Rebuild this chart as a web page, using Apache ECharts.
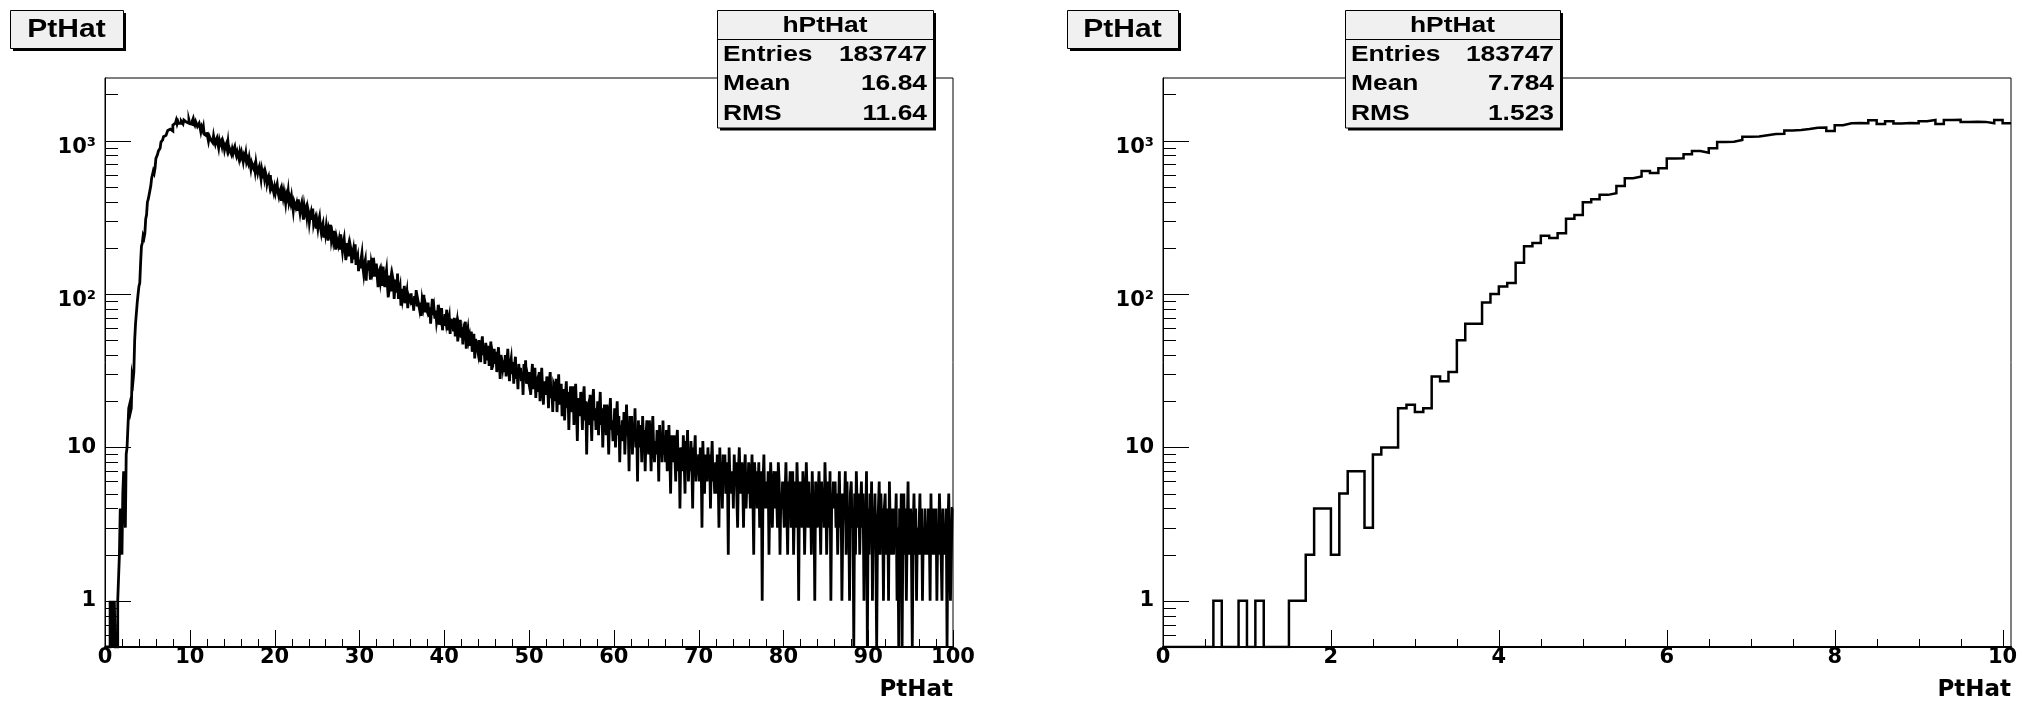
<!DOCTYPE html>
<html><head><meta charset="utf-8">
<script src="https://cdn.jsdelivr.net/npm/echarts@6/dist/echarts.min.js"></script>
<style>html,body{margin:0;padding:0;background:#fff}#c{width:2033px;height:710px}</style>
</head><body><div id="c"></div>
<script>
// ---- data: PtHat histogram, bin width 0.1 ----
const binWidth = 0.1;
// bins 0.0 .. 10.1 (101 bins) - shown in right panel and first part of left panel
const lowCounts = [
0,0,0,0,0,0,1,0,0,1,
0,1,0,0,0,1,1,2,4,4,
2,5,7,7,3,9,10,10,18,19,
17,18,29,27,31,50,64,64,88,100,
112,118,160,205,215,240,232,249,309,328,
397,415,443,454,507,569,583,635,614,661,
764,766,815,857,835,892,978,983,1010,1060,
1064,1084,1103,1109,1166,1172,1190,1213,1218,1157,
1260,1296,1301,1298,1358,1285,1338,1295,1302,1297,
1338,1364,1285,1362,1366,1322,1327,1325,1298,1364,
1298];
// bins 10.1 .. 100.0 (899 bins)
const tailCounts = [
1331,1277,1349,1396,1302,1262,1327,1360,1237,
1240,1296,1221,1143,1224,1177,1239,1102,1132,1072,
1134,1058,992,1069,1076,1007,1037,970,1073,997,
950,1008,1040,958,898,1005,954,984,920,997,
957,870,922,952,887,980,855,885,904,820,
879,829,882,914,834,796,843,863,759,837,
785,837,785,730,801,772,829,727,758,718,
775,711,655,718,724,664,688,632,716,652,
613,657,681,612,561,644,601,622,569,628,
596,525,561,583,528,597,495,516,527,458,
496,460,498,522,461,434,467,483,405,463,
426,466,429,391,445,425,469,397,421,394,
431,387,349,399,406,366,387,349,414,370,
338,372,393,343,306,371,340,358,320,366,
344,293,324,342,304,360,286,304,316,267,
297,269,300,319,273,252,279,291,233,278,
249,280,252,223,264,250,283,227,246,225,
258,224,195,234,239,208,224,195,245,212,
190,216,231,194,166,215,192,205,176,211,
197,159,182,196,168,211,155,169,178,141,
167,147,170,185,151,136,157,167,122,158,
142,166,146,124,157,145,172,130,146,130,
158,132,111,140,145,122,134,113,151,126,
111,132,144,115,95,132,115,126,104,131,
122,93,112,124,102,136,93,105,112,84,
108,92,99,113,87,96,104,81,97,93,
90,101,85,94,78,97,88,106,83,91,
93,79,88,72,91,84,99,76,85,80,
77,88,71,82,64,79,93,73,80,69,
78,66,72,85,63,74,69,81,58,71,
62,74,67,79,58,66,71,55,69,63,
65,57,70,53,61,66,49,63,59,68,
52,61,47,58,55,66,44,54,59,50,
53,46,57,42,49,55,38,51,47,44,
41,50,44,36,47,53,40,45,35,48,
43,37,46,34,40,49,32,41,38,44,
35,42,31,39,45,36,28,40,37,33,
37,31,40,29,36,44,33,27,35,38,
30,36,26,34,39,28,31,24,35,29,
33,27,31,22,35,29,37,26,30,28,
26,31,22,29,35,24,28,33,21,27,
28,23,31,20,26,33,24,19,27,25,
22,29,25,18,27,31,21,24,17,26,
25,20,28,17,23,30,19,22,26,16,
19,24,15,22,27,18,23,13,21,25,
22,17,25,14,20,26,18,11,21,19,
16,23,19,13,21,25,15,20,9,18,
19,14,22,16,11,20,24,15,18,13,
15,20,12,17,23,14,18,10,16,19,
17,12,19,14,9,16,21,13,15,11,
13,18,10,15,20,12,16,8,14,11,
15,11,17,9,13,19,12,14,7,16,
12,16,9,14,11,18,10,13,6,15,
10,14,12,8,16,11,13,7,12,15,
13,9,15,11,7,12,16,10,8,11,
9,13,11,6,14,10,12,8,15,9,
11,8,13,7,10,14,9,5,12,10,
8,12,9,6,11,13,7,10,4,9,
10,7,12,8,5,11,9,13,6,8,
7,11,8,4,10,9,12,6,8,7,
9,6,10,8,3,11,7,5,9,8,
6,10,7,9,4,8,11,6,7,5,
8,5,9,7,3,10,6,8,4,9,
6,9,5,8,7,2,10,6,7,5,
7,4,9,6,8,5,3,7,10,6,
5,8,6,3,7,9,4,6,5,8,
7,4,6,9,5,2,8,6,7,4,
5,8,3,6,7,1,6,9,4,5,
6,4,7,2,5,8,5,3,6,7,
4,7,5,3,8,6,2,5,4,6,
6,3,5,8,4,2,6,5,7,3,
5,7,2,4,6,3,8,5,1,6,
4,6,3,7,5,2,4,8,5,3,
6,3,5,2,7,4,5,1,6,4,
3,5,7,4,2,6,4,5,3,8,
5,2,4,6,3,7,1,5,4,6,
4,6,3,5,2,4,7,3,5,1,
3,5,4,7,2,6,3,4,1,5,
6,3,4,0,5,2,7,4,3,5,
2,4,6,3,5,1,4,3,7,0,
4,2,5,3,6,1,4,3,5,2,
0,3,4,6,2,5,3,4,1,4,
5,2,3,4,1,6,3,2,4,3,
2,4,3,5,1,3,0,4,2,5,
0,3,5,2,4,1,3,6,2,3,
4,2,0,3,5,2,4,1,3,2,
3,5,2,4,1,3,2,4,2,3,
2,4,3,1,5,2,3,4,2,3,
4,1,3,2,5,3,2,1,4,2,
3,2,4,0,3,5,2,1,1,4];
const leftCounts = lowCounts.concat(tailCounts);

// axis ticks / labels
const yMajorTicks = [1, 10, 100, 1000];
const yMinorTicks = [0.6,0.7,0.8,0.9,2,3,4,5,6,7,8,9,20,30,40,50,60,70,80,90,200,300,400,500,600,700,800,900,2000];
const leftXMajor = [0,10,20,30,40,50,60,70,80,90,100];
const leftXMinor = [2,4,6,8,12,14,16,18,22,24,26,28,32,34,36,38,42,44,46,48,52,54,56,58,62,64,66,68,72,74,76,78,82,84,86,88,92,94,96,98];
const rightXMajor = [0,2,4,6,8,10];
const rightXMinor = [0.5,1,1.5,2.5,3,3.5,4.5,5,5.5,6.5,7,7.5,8.5,9,9.5];
const supDigits = { 2: '\u00B2', 3: '\u00B3' };
const statsLeft = [["Entries","183747"],["Mean","16.84"],["RMS","11.64"]];
const statsRight = [["Entries","183747"],["Mean","7.784"],["RMS","1.523"]];
const histName = "hPtHat";
const titleText = "PtHat";
const axisTitle = "PtHat";

const Y_MIN = 0.5, Y_MAX = 2560;
const FONT = "'DejaVu Sans', 'Liberation Sans', sans-serif";
const BOXFONT = "'Liberation Sans', Arial, Helvetica, sans-serif";
const STRETCH = 1.2;

function stepPoints(counts, w) {
  const pts = [];
  counts.forEach((c, i) => {
    const y = c > 0 ? c : Y_MIN;
    pts.push([+(i * w).toFixed(2), y], [+((i + 1) * w).toFixed(2), y]);
  });
  return pts;
}

function tickSeries(idx, values, dir, len) {
  return {
    type: 'custom', xAxisIndex: idx, yAxisIndex: idx, silent: true, clip: false, z: 6,
    data: values.map(v => dir === 'x' ? [v, Y_MIN] : [0, v]),
    renderItem: (params, api) => {
      const p = api.coord([api.value(0), api.value(1)]);
      const px = Math.round(p[0]) + 0.5, py = Math.round(p[1]) + 0.5;
      const shape = dir === 'x'
        ? { x1: px, y1: p[1], x2: px, y2: p[1] - len }
        : { x1: p[0], y1: py, x2: p[0] + len, y2: py };
      return { type: 'line', shape, style: { stroke: '#000', lineWidth: 1 } };
    }
  };
}

function yLabel(v) {
  const l = Math.log10(v), r = Math.round(l);
  if (Math.abs(l - r) > 1e-6 || r < 0) return '';
  if (r === 0) return '{n|1}';
  if (r === 1) return '{n|10}';
  return '{p|10' + (supDigits[r] || '') + '}';
}

const yRich = {
  n: { fontFamily: FONT, fontWeight: 'bold', fontSize: 21, color: '#000' },
  p: { fontFamily: FONT, fontWeight: 'bold', fontSize: 21, color: '#000', padding: [13, 0, 0, 0] }
};

function makeYAxis(gi) {
  return {
    type: 'log', logBase: 10, gridIndex: gi, min: Y_MIN, max: Y_MAX,
    axisLine: { show: true, lineStyle: { color: '#000', width: 1 } },
    axisTick: { show: false }, minorTick: { show: false }, splitLine: { show: false },
    axisLabel: { margin: 9, showMinLabel: false, showMaxLabel: false, formatter: yLabel, rich: yRich }
  };
}

function makeXAxis(gi, max, interval) {
  return {
    type: 'value', gridIndex: gi, min: 0, max: max, interval: interval,
    axisLine: { show: true, onZero: false, lineStyle: { color: '#000', width: 2 } },
    axisTick: { show: false }, minorTick: { show: false }, splitLine: { show: false },
    axisLabel: {
      margin: 0, color: '#000', fontFamily: FONT, fontWeight: 'bold', fontSize: 21,
      showMaxLabel: max === 100, formatter: v => (Math.abs(v - Math.round(v)) < 1e-9 && Math.round(v) % interval === 0) ? String(Math.round(v)) : ''
    },
    name: axisTitle, nameLocation: 'end', nameGap: 0,
    nameTextStyle: { color: '#000', fontFamily: FONT, fontWeight: 'bold', fontSize: 23, align: 'right', verticalAlign: 'top', padding: [32, 0, 0, 0] }
  };
}

function box(x, y, w, h, children) {
  return [
    { type: 'rect', shape: { x: x + 3, y: y + 3, width: w, height: h }, style: { fill: '#000' }, z: 20 },
    { type: 'rect', shape: { x: x + 0.5, y: y + 0.5, width: w, height: h }, style: { fill: '#f0f0f0', stroke: '#000', lineWidth: 1 }, z: 21 }
  ].concat(children);
}

function boxText(x, y, text, size, align) {
  return { type: 'text', x: x, y: y, scaleX: STRETCH, scaleY: 1, z: 22,
    style: { text: text, fill: '#000', font: 'bold ' + size + 'px ' + BOXFONT, textAlign: align, textVerticalAlign: 'middle' } };
}

function titleBox(x, y, w, h) {
  return box(x, y, w, h, [ boxText(x + w / 2, y + h / 2 + 1, titleText, 25, 'center') ]);
}

function statsBox(x, y, w, rows) {
  const hh = 29, rh = 29.5;
  const h = hh + rows.length * rh;
  const ch = [
    { type: 'line', shape: { x1: x, y1: y + hh + 0.5, x2: x + w, y2: y + hh + 0.5 }, style: { stroke: '#000', lineWidth: 1 }, z: 22 },
    boxText(x + w / 2, y + hh / 2 + 1, histName, 22, 'center')
  ];
  rows.forEach((r, i) => {
    const cy = y + hh + rh * i + rh / 2 + 1;
    ch.push(boxText(x + 6, cy, r[0], 22, 'left'));
    ch.push(boxText(x + w - 6, cy, r[1], 22, 'right'));
  });
  return box(x, y, w, h, ch);
}

const chart = echarts.init(document.getElementById('c'), null, { renderer: 'canvas' });
chart.setOption({
  animation: false,
  backgroundColor: '#fff',
  grid: [
    { left: 105, top: 78, width: 848, height: 569, show: true, borderColor: '#000', borderWidth: 1, backgroundColor: 'transparent' },
    { left: 1163, top: 78, width: 848, height: 569, show: true, borderColor: '#000', borderWidth: 1, backgroundColor: 'transparent' }
  ],
  xAxis: [makeXAxis(0, 100, 10), makeXAxis(1, 10.1, 2)],
  yAxis: [makeYAxis(0), makeYAxis(1)],
  series: [
    { type: 'line', xAxisIndex: 0, yAxisIndex: 0, data: stepPoints(leftCounts, binWidth), showSymbol: false, symbol: 'none', clip: true,
      lineStyle: { color: '#000', width: 2.8, join: 'miter', cap: 'butt' }, z: 4, silent: true },
    { type: 'line', xAxisIndex: 1, yAxisIndex: 1, data: stepPoints(lowCounts, binWidth), showSymbol: false, symbol: 'none', clip: true,
      lineStyle: { color: '#000', width: 2.5, join: 'miter', cap: 'butt' }, z: 4, silent: true },
    tickSeries(0, yMajorTicks, 'y', 26), tickSeries(0, yMinorTicks, 'y', 13),
    tickSeries(0, leftXMajor, 'x', 17), tickSeries(0, leftXMinor, 'x', 8),
    tickSeries(1, yMajorTicks, 'y', 26), tickSeries(1, yMinorTicks, 'y', 13),
    tickSeries(1, rightXMajor, 'x', 17), tickSeries(1, rightXMinor, 'x', 8)
  ],
  graphic: [].concat(
    titleBox(10, 10, 113, 38),
    titleBox(1067, 10, 111, 38),
    statsBox(717, 10, 216, statsLeft),
    statsBox(1345, 10, 215, statsRight)
  ).map(g => Object.assign({ silent: true }, g))
});
</script>
</body></html>
